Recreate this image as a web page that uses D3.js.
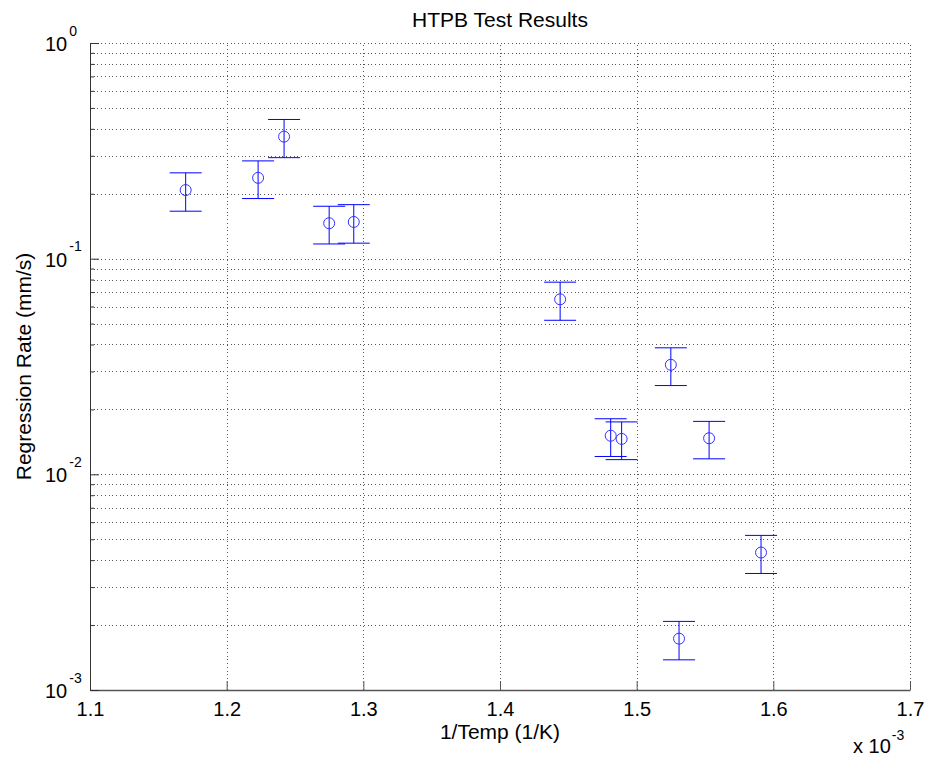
<!DOCTYPE html>
<html>
<head>
<meta charset="utf-8">
<script src="https://cdn.jsdelivr.net/npm/d3@7"></script>
<style>
  body { margin: 0; background: #fff; }
  text { font-family: Arial, "Liberation Sans", sans-serif; fill: #000; }
  .grid line { stroke: #555; stroke-dasharray: 1,2.7; shape-rendering: crispEdges; }
  .grid .domain { display: none; }
</style>
</head>
<body>
<div id="chart"></div>
<script>
// Data: 1/T in units of 1e-3 1/K, regression rate in mm/s
const tempInv = [1.170, 1.223, 1.242, 1.275, 1.293, 1.444, 1.481, 1.489, 1.525, 1.553, 1.591, 1.531];
const rates = [0.208, 0.237, 0.368, 0.146, 0.148, 0.0648, 0.0151, 0.0146, 0.0322, 0.0147, 0.00434, 0.00173];
const rateErr = [0.042, 0.047, 0.074, 0.029, 0.030, 0.013, 0.0030, 0.0029, 0.0064, 0.0029, 0.00087, 0.00035];

const xTicks = [1.1, 1.2, 1.3, 1.4, 1.5, 1.6, 1.7];
const yDecades = [1e-3, 1e-2, 1e-1, 1];
const yExponents = ['-3', '-2', '-1', '0'];

const width_plot = 932, height_plot = 763;
const margin_plot = {top: 43, right: 910, bottom: 690, left: 90};
const capHalf = 16;

const data = tempInv.map((t, i) => ({x: t, y: rates[i], e: rateErr[i]}));

// minor log ticks 2..9 in each decade
const yMinor = [];
yDecades.slice(0, 3).forEach(d => {
  for (let k = 2; k <= 9; k++) yMinor.push(d * k);
});

const x = d3.scaleLinear().domain([1.1, 1.7]).range([margin_plot.left, margin_plot.right]);
const y = d3.scaleLog().domain([1e-3, 1]).range([margin_plot.bottom, margin_plot.top]);

const svg = d3.select('#chart')
  .append('svg')
    .attr('width', width_plot)
    .attr('height', height_plot);

// Grid lines
svg.append('g')
  .attr('class', 'grid')
  .attr('transform', 'translate(0,' + margin_plot.bottom + ')')
  .call(d3.axisBottom(x).tickValues(xTicks.slice(1)).tickSize(-(margin_plot.bottom - margin_plot.top)).tickFormat(''));
svg.append('g')
  .attr('class', 'grid')
  .attr('transform', 'translate(' + margin_plot.left + ',0)')
  .call(d3.axisLeft(y).tickValues(yDecades.slice(1).concat(yMinor)).tickSize(-(margin_plot.right - margin_plot.left)).tickFormat(''));

// X axis
const xAxis = svg.append('g')
  .attr('class', 'axis axis-x')
  .attr('transform', 'translate(0,' + margin_plot.bottom + ')')
  .call(d3.axisBottom(x).tickValues(xTicks).tickSizeInner(-9).tickSizeOuter(0).tickPadding(12).tickFormat(d3.format('.1f')));
xAxis.select('.domain').attr('stroke', '#555').attr('stroke-width', 1.5);
xAxis.selectAll('.tick line').attr('stroke', '#555');
xAxis.selectAll('text').attr('font-size', 20).attr('font-family', 'Arial, "Liberation Sans", sans-serif');

// Y axis (minor ticks)
const yMinorAxis = svg.append('g')
  .attr('class', 'axis axis-y-minor')
  .attr('transform', 'translate(' + margin_plot.left + ',0)')
  .call(d3.axisLeft(y).tickValues(yMinor).tickSizeInner(-4).tickSizeOuter(0).tickFormat(''));
yMinorAxis.select('.domain').remove();
yMinorAxis.selectAll('.tick line').attr('stroke', '#333');

// Y axis (decades)
const yAxis = svg.append('g')
  .attr('class', 'axis axis-y')
  .attr('transform', 'translate(' + margin_plot.left + ',0)')
  .call(d3.axisLeft(y).tickValues(yDecades).tickSizeInner(-9).tickSizeOuter(0).tickFormat(''));
yAxis.select('.domain').attr('stroke', '#333');
yAxis.selectAll('.tick line').attr('stroke', '#333');
yAxis.selectAll('.tick text')
  .attr('x', -45)
  .attr('y', 7.5)
  .attr('dy', null)
  .attr('text-anchor', 'start')
  .attr('font-size', 20)
  .attr('font-family', 'Arial, "Liberation Sans", sans-serif')
  .each(function(d, i) {
    const t = d3.select(this);
    t.append('tspan').text('10');
    t.append('tspan')
      .attr('dx', 2)
      .attr('dy', -15.5)
      .attr('font-size', 14)
      .text(yExponents[i]);
  });

// Error bars
const bars = svg.append('g').attr('class', 'errorbars');
bars.selectAll('.err-v')
  .data(data)
  .join('line')
    .attr('class', 'err-v')
    .attr('x1', d => x(d.x))
    .attr('x2', d => x(d.x))
    .attr('y1', d => y(d.y + d.e))
    .attr('y2', d => y(d.y - d.e))
    .attr('stroke', '#0000ff');
bars.selectAll('.err-top')
  .data(data)
  .join('line')
    .attr('class', 'err-top')
    .attr('x1', d => x(d.x) - capHalf)
    .attr('x2', d => x(d.x) + capHalf)
    .attr('y1', d => y(d.y + d.e))
    .attr('y2', d => y(d.y + d.e))
    .attr('stroke', '#0000ff');
bars.selectAll('.err-bot')
  .data(data)
  .join('line')
    .attr('class', 'err-bot')
    .attr('x1', d => x(d.x) - capHalf)
    .attr('x2', d => x(d.x) + capHalf)
    .attr('y1', d => y(d.y - d.e))
    .attr('y2', d => y(d.y - d.e))
    .attr('stroke', '#0000ff');

// Markers
svg.append('g')
  .attr('class', 'markers')
  .selectAll('circle')
  .data(data)
  .join('circle')
    .attr('cx', d => x(d.x))
    .attr('cy', d => y(d.y))
    .attr('r', 5.5)
    .attr('fill', 'none')
    .attr('stroke', '#3333ff');

// Title and labels
svg.append('text')
  .attr('x', (margin_plot.left + margin_plot.right) / 2)
  .attr('y', 27)
  .attr('text-anchor', 'middle')
  .attr('font-size', 21)
  .text('HTPB Test Results');

svg.append('text')
  .attr('x', (margin_plot.left + margin_plot.right) / 2)
  .attr('y', 739)
  .attr('text-anchor', 'middle')
  .attr('font-size', 21)
  .text('1/Temp (1/K)');

svg.append('text')
  .attr('transform', 'translate(31,' + ((margin_plot.top + margin_plot.bottom) / 2) + ') rotate(-90)')
  .attr('text-anchor', 'middle')
  .attr('font-size', 21)
  .text('Regression Rate (mm/s)');

const expLabel = svg.append('text')
  .attr('x', 853)
  .attr('y', 753)
  .attr('font-size', 20);
expLabel.append('tspan').text('x 10');
expLabel.append('tspan')
  .attr('dx', 1)
  .attr('dy', -13)
  .attr('font-size', 14)
  .text('-3');
</script>
</body>
</html>
